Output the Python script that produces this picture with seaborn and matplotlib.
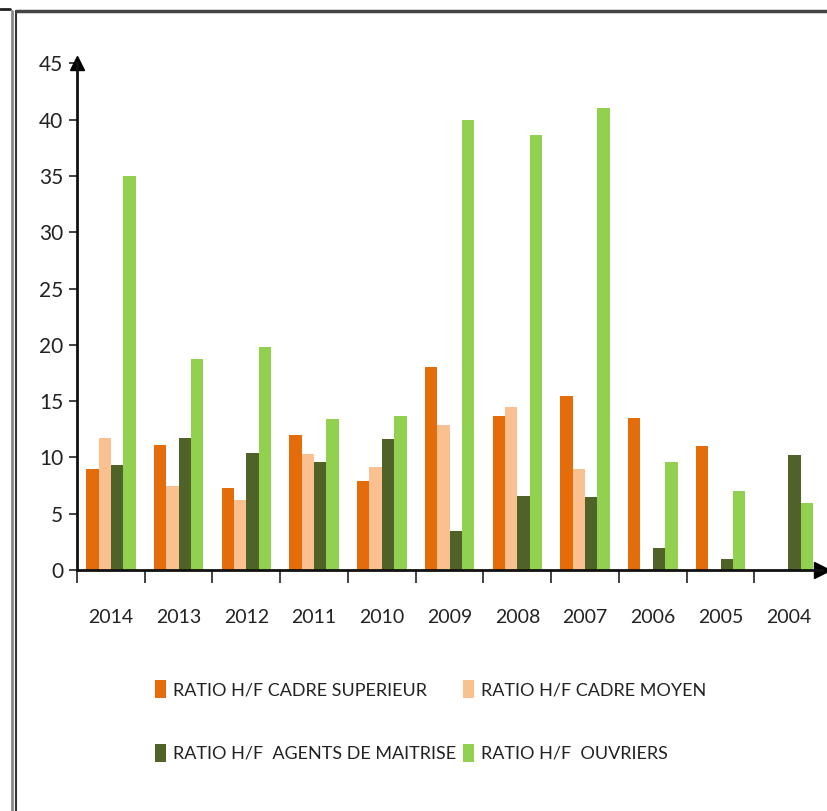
import pandas as pd
import numpy as np
import matplotlib
matplotlib.use("Agg")
import matplotlib.pyplot as plt
from matplotlib.lines import Line2D
import seaborn as sns

# data
years = ["2014", "2013", "2012", "2011", "2010", "2009", "2008", "2007", "2006", "2005", "2004"]
cadre_sup = [9.0, 11.1, 7.3, 12.0, 7.9, 18.0, 13.7, 15.5, 13.5, 11.0, 0]
cadre_moyen = [11.7, 7.5, 6.2, 10.3, 9.2, 12.9, 14.5, 9.0, 0, 0, 0]
agents_maitrise = [9.3, 11.7, 10.4, 9.6, 11.6, 3.5, 6.6, 6.5, 2.0, 1.0, 10.2]
ouvriers = [35.0, 18.7, 19.8, 13.4, 13.7, 40.0, 38.6, 41.0, 9.6, 7.0, 6.0]

series = ["RATIO H/F CADRE SUPERIEUR", "RATIO H/F CADRE MOYEN",
          "RATIO H/F  AGENTS DE MAITRISE", "RATIO H/F  OUVRIERS"]
colors = ["#E46C0A", "#FAC090", "#4F6228", "#92D050"]

df = pd.DataFrame({"annee": years * 4,
                   "serie": np.repeat(series, len(years)),
                   "ratio": cadre_sup + cadre_moyen + agents_maitrise + ouvriers})

sns.set_style("white")
plt.rcParams["font.family"] = ["Lato", "DejaVu Sans"]

fig = plt.figure(figsize=(8.28, 8.11), dpi=100)
ax = fig.add_axes([0.093, 0.297, 0.900, 0.625])

sns.barplot(data=df, x="annee", y="ratio", hue="serie", order=years,
            hue_order=series, palette=colors, width=0.73, saturation=1,
            linewidth=0, ax=ax, legend=True)

ax.set_xlim(-0.5, 10.5)
ax.set_ylim(0, 45)
ax.set_yticks(range(0, 46, 5))
ax.set_xlabel("")
ax.set_ylabel("")
ax.tick_params(axis="y", labelsize=15, length=6, width=1.2, left=True, color="#222222",
               labelcolor="#222222", pad=4)
ax.tick_params(axis="x", which="major", labelsize=14, length=0, pad=28, labelcolor="#222222")
ax.set_xticks(np.arange(-0.5, 10.5, 1), minor=True)
ax.tick_params(axis="x", which="minor", length=9, width=1.2, bottom=True, color="#222222")

for s in ["top", "right"]:
    ax.spines[s].set_visible(False)
for s in ["left", "bottom"]:
    ax.spines[s].set_color("#111111")
    ax.spines[s].set_linewidth(2)

# arrow heads at axis ends
ax.plot(1, 0, ">", color="black", markersize=11, transform=ax.transAxes, clip_on=False)
ax.plot(0, 1, "^", color="black", markersize=10, transform=ax.transAxes, clip_on=False)

handles, labels = ax.get_legend_handles_labels()
order = [0, 2, 1, 3]  # row-major like the original
ax.legend([handles[i] for i in order], [labels[i] for i in order], ncol=2, loc="center",
          bbox_to_anchor=(0.52, 0.111), bbox_transform=fig.transFigure, frameon=False,
          fontsize=13, handlelength=0.6, handleheight=1.2, handletextpad=0.4,
          columnspacing=0.4, labelspacing=2.5, labelcolor="#222222")

# outer frame lines
fig.add_artist(Line2D([12 / 828, 12 / 828], [0, 1 - 11 / 811], transform=fig.transFigure, color="#888888", lw=2))
fig.add_artist(Line2D([16 / 828, 16 / 828], [0, 1 - 11 / 811], transform=fig.transFigure, color="#333333", lw=1.5))
fig.add_artist(Line2D([16 / 828, 1], [1 - 11 / 811, 1 - 11 / 811], transform=fig.transFigure, color="#444444", lw=2.5))
fig.add_artist(Line2D([0, 10 / 828], [1 - 9 / 811, 1 - 9 / 811], transform=fig.transFigure, color="#222222", lw=2))

fig.savefig("out.png", dpi=100)
